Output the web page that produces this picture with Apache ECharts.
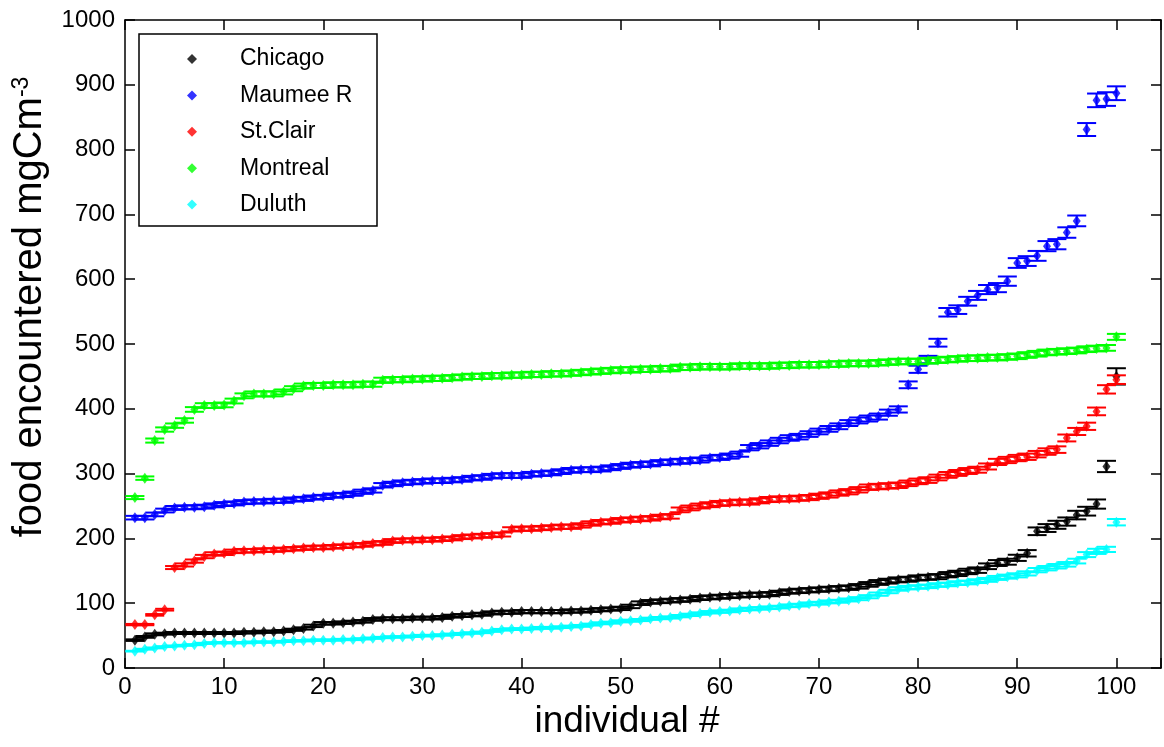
<!DOCTYPE html>
<html><head><meta charset="utf-8">
<script src="https://cdn.jsdelivr.net/npm/echarts@6/dist/echarts.min.js"></script>
<style>html,body{margin:0;padding:0;background:#fff}#c{width:1164px;height:747px}</style>
</head><body><div id="c"></div>
<script>
const individuals = Array.from({length: 100}, (_, i) => i + 1);
const seriesNames = ['Chicago', 'Maumee R', 'St.Clair', 'Montreal', 'Duluth'];
const seriesColors = ['#000000', '#0000ff', '#ff0000', '#00ff00', '#00ffff'];
const xTicks = [0, 10, 20, 30, 40, 50, 60, 70, 80, 90, 100];
const yTicks = [0, 100, 200, 300, 400, 500, 600, 700, 800, 900, 1000];
// relative size of each series' error bars
const errorFraction = [0.028, 0.012, 0.015, 0.009, 0.022];

const chicago = [43,48,52,53,54,54,54,54,54,54,
  54,55,55,56,56,57,59,61,65,69,
  69,70,71,72,75,76,76,76,77,77,
  77,78,80,81,82,83,85,86,86,87,
  87,87,87,87,88,88,89,90,91,92,
  95,100,102,103,104,105,106,108,109,110,
  111,112,113,113,114,116,118,119,120,121,
  122,123,124,126,129,132,134,136,137,139,
  140,141,144,146,149,151,157,162,164,170,
  177,211,216,221,226,236,242,253,311,450];
const maumee = [232,232,237,243,247,248,248,249,251,253,
  254,256,257,257,258,258,260,261,263,264,
  266,267,269,272,274,282,284,286,287,288,
  289,289,290,291,293,294,296,297,297,297,
  299,300,301,303,305,306,306,307,309,311,
  313,314,315,317,318,319,320,321,324,325,
  327,330,340,343,347,351,355,357,361,365,
  369,373,378,382,385,388,394,399,437,461,
  476,502,549,553,566,575,584,587,597,625,
  628,636,651,654,672,690,831,876,878,887];
const stClair = [67,67,82,90,155,159,165,172,176,177,
  180,181,181,182,182,183,184,185,186,186,
  187,188,189,190,192,193,196,197,197,198,
  198,199,200,202,203,204,205,206,214,215,
  215,216,217,218,218,220,223,225,226,228,
  229,230,231,233,234,244,247,250,252,254,
  255,256,256,258,260,261,261,262,263,265,
  267,270,272,275,279,280,281,282,285,288,
  290,294,298,301,304,306,311,318,321,324,
  326,330,334,337,355,365,373,396,430,445];
const montreal = [263,293,351,368,374,382,399,405,405,406,
  412,420,423,423,423,426,431,435,436,436,
  437,437,437,438,438,444,445,445,446,446,
  447,447,448,449,450,450,451,451,452,452,
  453,453,454,454,455,456,457,458,459,460,
  460,461,461,462,462,464,464,465,465,465,
  465,466,466,466,466,467,467,468,468,468,
  469,469,470,470,470,471,472,473,473,473,
  474,475,476,477,478,478,479,479,480,481,
  483,485,487,488,489,490,492,493,494,511];
const duluth = [26,29,31,33,34,35,36,38,39,39,
  39,39,40,40,40,41,42,42,43,43,
  43,44,44,45,46,47,48,48,49,50,
  50,51,52,53,54,55,57,59,60,60,
  61,62,62,63,64,65,67,69,70,72,
  73,74,76,77,78,80,82,84,86,87,
  88,90,91,92,93,94,96,97,99,100,
  102,103,105,107,110,114,118,122,124,125,
  126,128,129,131,132,134,136,139,141,143,
  146,151,154,157,160,165,175,180,183,225];
const allValues = [chicago, maumee, stClair, montreal, duluth];

const FONT = '"Liberation Sans", Arial, sans-serif';

function errRender(frac) {
  return function (params, api) {
    const x = api.value(0), y = api.value(1);
    const e = y * frac;
    const top = api.coord([x, y + e]);
    const bot = api.coord([x, y - e]);
    const hw = 9.5;
    const style = {stroke: api.visual('color'), lineWidth: 2, fill: null};
    return {type: 'group', children: [
      {type: 'line', shape: {x1: top[0], y1: top[1], x2: bot[0], y2: bot[1]}, style: style},
      {type: 'line', shape: {x1: top[0] - hw, y1: top[1], x2: top[0] + hw, y2: top[1]}, style: style},
      {type: 'line', shape: {x1: bot[0] - hw, y1: bot[1], x2: bot[0] + hw, y2: bot[1]}, style: style}
    ]};
  };
}

const series = [];
allValues.forEach((vals, k) => {
  const data = individuals.map((x, i) => [x, vals[i]]);
  series.push({
    name: seriesNames[k] + ' err', type: 'custom', renderItem: errRender(errorFraction[k]),
    data: data, itemStyle: {color: seriesColors[k]}, z: 2 + k * 0.1, silent: true
  });
  series.push({
    name: seriesNames[k], type: 'scatter', data: data, symbol: 'diamond', symbolSize: [8, 11],
    itemStyle: {color: seriesColors[k]}, z: 2 + k * 0.1 + 0.05, silent: true
  });
});

const axisLine = {show: true, onZero: false, lineStyle: {color: '#000', width: 1.5}};
const tick = {show: true, inside: true, length: 10, lineStyle: {color: '#000', width: 1.5}};
const chart = echarts.init(document.getElementById('c'), null, {renderer: 'canvas'});
chart.setOption({
  animation: false,
  backgroundColor: '#ffffff',
  grid: {left: 125, top: 20, right: 1, bottom: 79, show: false},
  xAxis: [{
    type: 'value', min: 0, max: 104.5, interval: 10, position: 'bottom',
    axisLine: axisLine, splitLine: {show: false}, axisTick: tick,
    axisLabel: {color: '#000', fontSize: 24, fontFamily: FONT, margin: 7,
      formatter: v => (xTicks.indexOf(v) >= 0 ? String(v) : '')}
  }, {
    type: 'value', min: 0, max: 104.5, interval: 10, position: 'top',
    axisLine: axisLine, splitLine: {show: false}, axisTick: tick,
    axisLabel: {show: false}
  }],
  yAxis: [{
    type: 'value', min: 0, max: 1000, interval: 100, position: 'left',
    axisLine: axisLine, splitLine: {show: false}, axisTick: tick,
    axisLabel: {color: '#000', fontSize: 24, fontFamily: FONT, margin: 10,
      formatter: v => (yTicks.indexOf(v) >= 0 ? String(v) : '')}
  }, {
    type: 'value', min: 0, max: 1000, interval: 100, position: 'right',
    axisLine: axisLine, splitLine: {show: false}, axisTick: tick,
    axisLabel: {show: false}
  }],
  legend: {
    data: seriesNames, orient: 'vertical', left: 139, top: 34,
    padding: [12, 14, 10, 48], itemWidth: 10, itemHeight: 10, itemGap: 10.4,
    icon: 'diamond', selectedMode: false,
    textStyle: {color: '#000', fontSize: 23, fontFamily: FONT, lineHeight: 26, padding: [0, 0, 0, 38]}
  },
  graphic: [
    {type: 'rect', shape: {x: 139, y: 34, width: 238, height: 192},
      style: {fill: '#fff', stroke: '#000', lineWidth: 1.5}, z: 3},
    {type: 'text', x: 627, y: 722,
      style: {text: 'individual #', font: '37px ' + FONT, fill: '#000', align: 'center', verticalAlign: 'middle'}},
    {type: 'text', x: 30, y: 307, rotation: Math.PI / 2,
      style: {text: '{a|food encountered mgCm}{b|-3}', align: 'center', verticalAlign: 'middle', fill: '#000',
        rich: {a: {fontSize: 40, fontFamily: FONT, fill: '#000', verticalAlign: 'bottom'},
               b: {fontSize: 23, fontFamily: FONT, fill: '#000', verticalAlign: 'top'}}}}
  ],
  series: series
});
</script></body></html>
